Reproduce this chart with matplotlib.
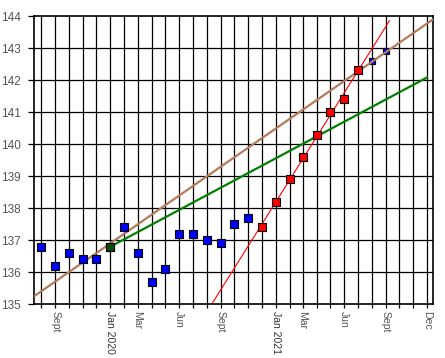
import datetime as dt

import matplotlib
matplotlib.use('Agg')
import matplotlib.pyplot as plt
import matplotlib.dates as mdates

plt.rcParams['font.family'] = ['Liberation Sans Narrow', 'Liberation Sans', 'DejaVu Sans']

# monthly readings (first of month)
blue_dates = [dt.date(2019, m, 1) for m in range(8, 13)] + [dt.date(2020, m, 1) for m in range(1, 12)]
blue_vals = [136.8, 136.2, 136.6, 136.4, 136.4,
             136.8, 137.4, 136.6, 135.7, 136.1, 137.2, 137.2, 137.0, 136.9, 137.5, 137.7]
red_dates = [dt.date(2020, 12, 1)] + [dt.date(2021, m, 1) for m in range(1, 8)]
red_vals = [137.4, 138.2, 138.9, 139.6, 140.3, 141.0, 141.4, 142.3]
late_dates = [dt.date(2021, 8, 1), dt.date(2021, 9, 1)]
late_vals = [142.6, 142.9]

# trend lines (end points)
brown_dates = [dt.date(2019, 7, 17), dt.date(2021, 12, 15)]
brown_vals = [135.26, 143.9]
green_dates = [dt.date(2020, 1, 1), dt.date(2021, 12, 1)]
green_vals = [136.8, 142.08]
red_line_dates = [dt.date(2020, 8, 14), dt.date(2021, 9, 9)]
red_line_vals = [135.05, 143.85]

tick_dates = [dt.date(2019, 9, 1), dt.date(2020, 1, 1), dt.date(2020, 3, 1), dt.date(2020, 6, 1),
              dt.date(2020, 9, 1), dt.date(2021, 1, 1), dt.date(2021, 3, 1), dt.date(2021, 6, 1),
              dt.date(2021, 9, 1), dt.date(2021, 12, 1)]
tick_labels = ['Sept', 'Jan 2020', 'Mar', 'Jun', 'Sept', 'Jan 2021', 'Mar', 'Jun', 'Sept', 'Dec']

fig = plt.figure(figsize=(4.45, 3.58), dpi=100)
ax = fig.add_axes([0.0775, 0.15, 0.8962, 0.8053])

month_starts = [dt.date(2019 + (7 + i) // 12, (7 + i) % 12 + 1, 1) for i in range(29)]
for d in month_starts:
    ax.axvline(d, color='black', lw=0.9, zorder=1)
for v in range(136, 144):
    ax.axhline(v, color='black', lw=0.9, zorder=1)

ax.plot(late_dates, late_vals, 's', color='#0000ff', mec='black', mew=0.8, ms=4.6, zorder=2)
ax.plot(brown_dates, brown_vals, color='#b57a5c', lw=1.6, zorder=3)
ax.plot(green_dates, green_vals, color='#008000', lw=1.6, zorder=3)
ax.plot(red_line_dates, red_line_vals, color='#ff0000', lw=0.8, zorder=3)
ax.plot(blue_dates, blue_vals, 's', color='#0000ff', mec='black', mew=0.8, ms=6, zorder=4)
ax.plot(green_dates[:1], green_vals[:1], 's', color='#0b4a0b', mec='black', mew=0.8, ms=6, zorder=5)
ax.plot(red_dates, red_vals, 's', color='#ff0000', mec='black', mew=0.8, ms=6, zorder=4)

ax.set_xlim(dt.date(2019, 7, 17), dt.date(2021, 12, 15))
ax.set_ylim(135, 144)
ax.set_yticks(range(135, 145))
ax.tick_params(axis='y', length=4, width=0.9, pad=6, labelsize=8.5, labelcolor='#555555')
ax.set_xticks(month_starts, minor=True)
ax.set_xticks(tick_dates)
ax.set_xticklabels(tick_labels, rotation=-90, va='top', ha='center')
ax.tick_params(axis='x', which='both', length=3, width=0.9, pad=2, labelsize=7.5, labelcolor='#555555')
for t in ax.get_xticklabels():
    if t.get_text().startswith('Jan'):
        t.set_color('#333333')
for s in ax.spines.values():
    s.set_linewidth(1.2)

plt.savefig('out.png', dpi=100)
